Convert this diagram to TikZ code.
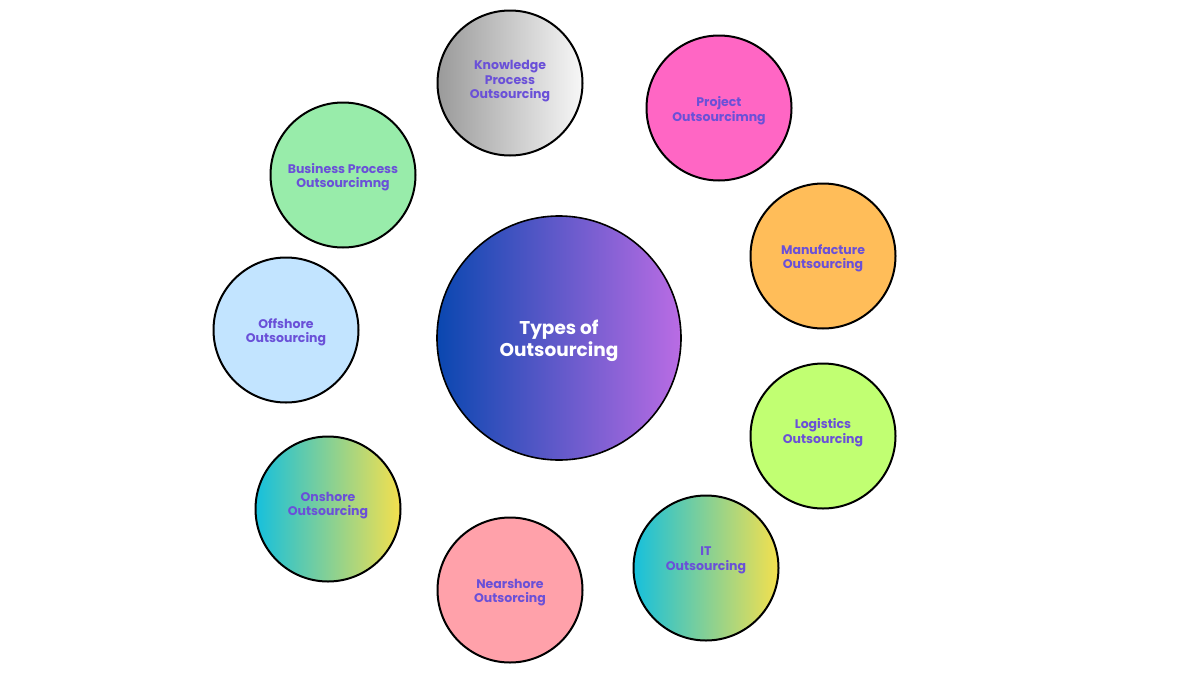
\documentclass[tikz,border=0pt]{standalone}
\usepackage{fontspec}
\setmainfont{Poppins}
\definecolor{txt}{HTML}{6A50D8}
\definecolor{kpoL}{HTML}{9A9A9A}
\definecolor{kpoR}{HTML}{F7F7F7}
\definecolor{projC}{HTML}{FF66C4}
\definecolor{bpoC}{HTML}{98ECAA}
\definecolor{manC}{HTML}{FFBD59}
\definecolor{offC}{HTML}{C2E4FF}
\definecolor{logC}{HTML}{C1FF72}
\definecolor{nearC}{HTML}{FFA1AA}
\definecolor{cyanL}{HTML}{16C0DC}
\definecolor{yelR}{HTML}{F4E04E}
\definecolor{ctrL}{HTML}{0A47B0}
\definecolor{ctrR}{HTML}{BA6CE4}
\begin{document}
\begin{tikzpicture}[x=1pt,y=-1pt,
  circ/.style={circle, draw=black, line width=2pt, minimum size=145pt, inner sep=0pt},
  lbl/.style={font=\bfseries\fontsize{12.5}{14.5}\selectfont, text=txt, align=center},
  ctrlbl/.style={font=\bfseries\fontsize{18.5}{22}\selectfont, text=white, align=center}]
\useasboundingbox[fill=white] (0,0) rectangle (1200,675);

\node[circ, minimum size=244pt, line width=1.6pt, left color=ctrL, right color=ctrR,
  label={[ctrlbl, yshift=-2.5pt]center:Types of\\Outsourcing}] (center) at (559,338) {};

\node[circ, left color=kpoL, right color=kpoR,
  label={[lbl, yshift=1.5pt]center:Knowledge\\Process\\Outsourcing}] (kpo) at (510,83) {};
\node[circ, fill=projC,
  label={[lbl, yshift=-2.5pt]center:Project\\Outsourcimng}] (proj) at (719,108) {};
\node[circ, fill=bpoC,
  label={[lbl, yshift=-2pt]center:Business Process\\Outsourcimng}] (bpo) at (343,175) {};
\node[circ, fill=manC,
  label={[lbl, yshift=-2.5pt]center:Manufacture\\Outsourcing}] (man) at (823,256) {};
\node[circ, fill=offC,
  label={[lbl, yshift=-2.5pt]center:Offshore\\Outsourcing}] (off) at (286,330) {};
\node[circ, fill=logC,
  label={[lbl, yshift=3.5pt]center:Logistics\\Outsourcing}] (log) at (823,436) {};
\node[circ, left color=cyanL, right color=yelR,
  label={[lbl, yshift=3.5pt]center:Onshore\\Outsourcing}] (on) at (328,509) {};
\node[circ, left color=cyanL, right color=yelR,
  label={[lbl, yshift=7.5pt]center:IT\\Outsourcing}] (it) at (706,568) {};
\node[circ, fill=nearC,
  label={[lbl, yshift=-2.5pt]center:Nearshore\\Outsorcing}] (near) at (510,590) {};
\end{tikzpicture}
\end{document}
